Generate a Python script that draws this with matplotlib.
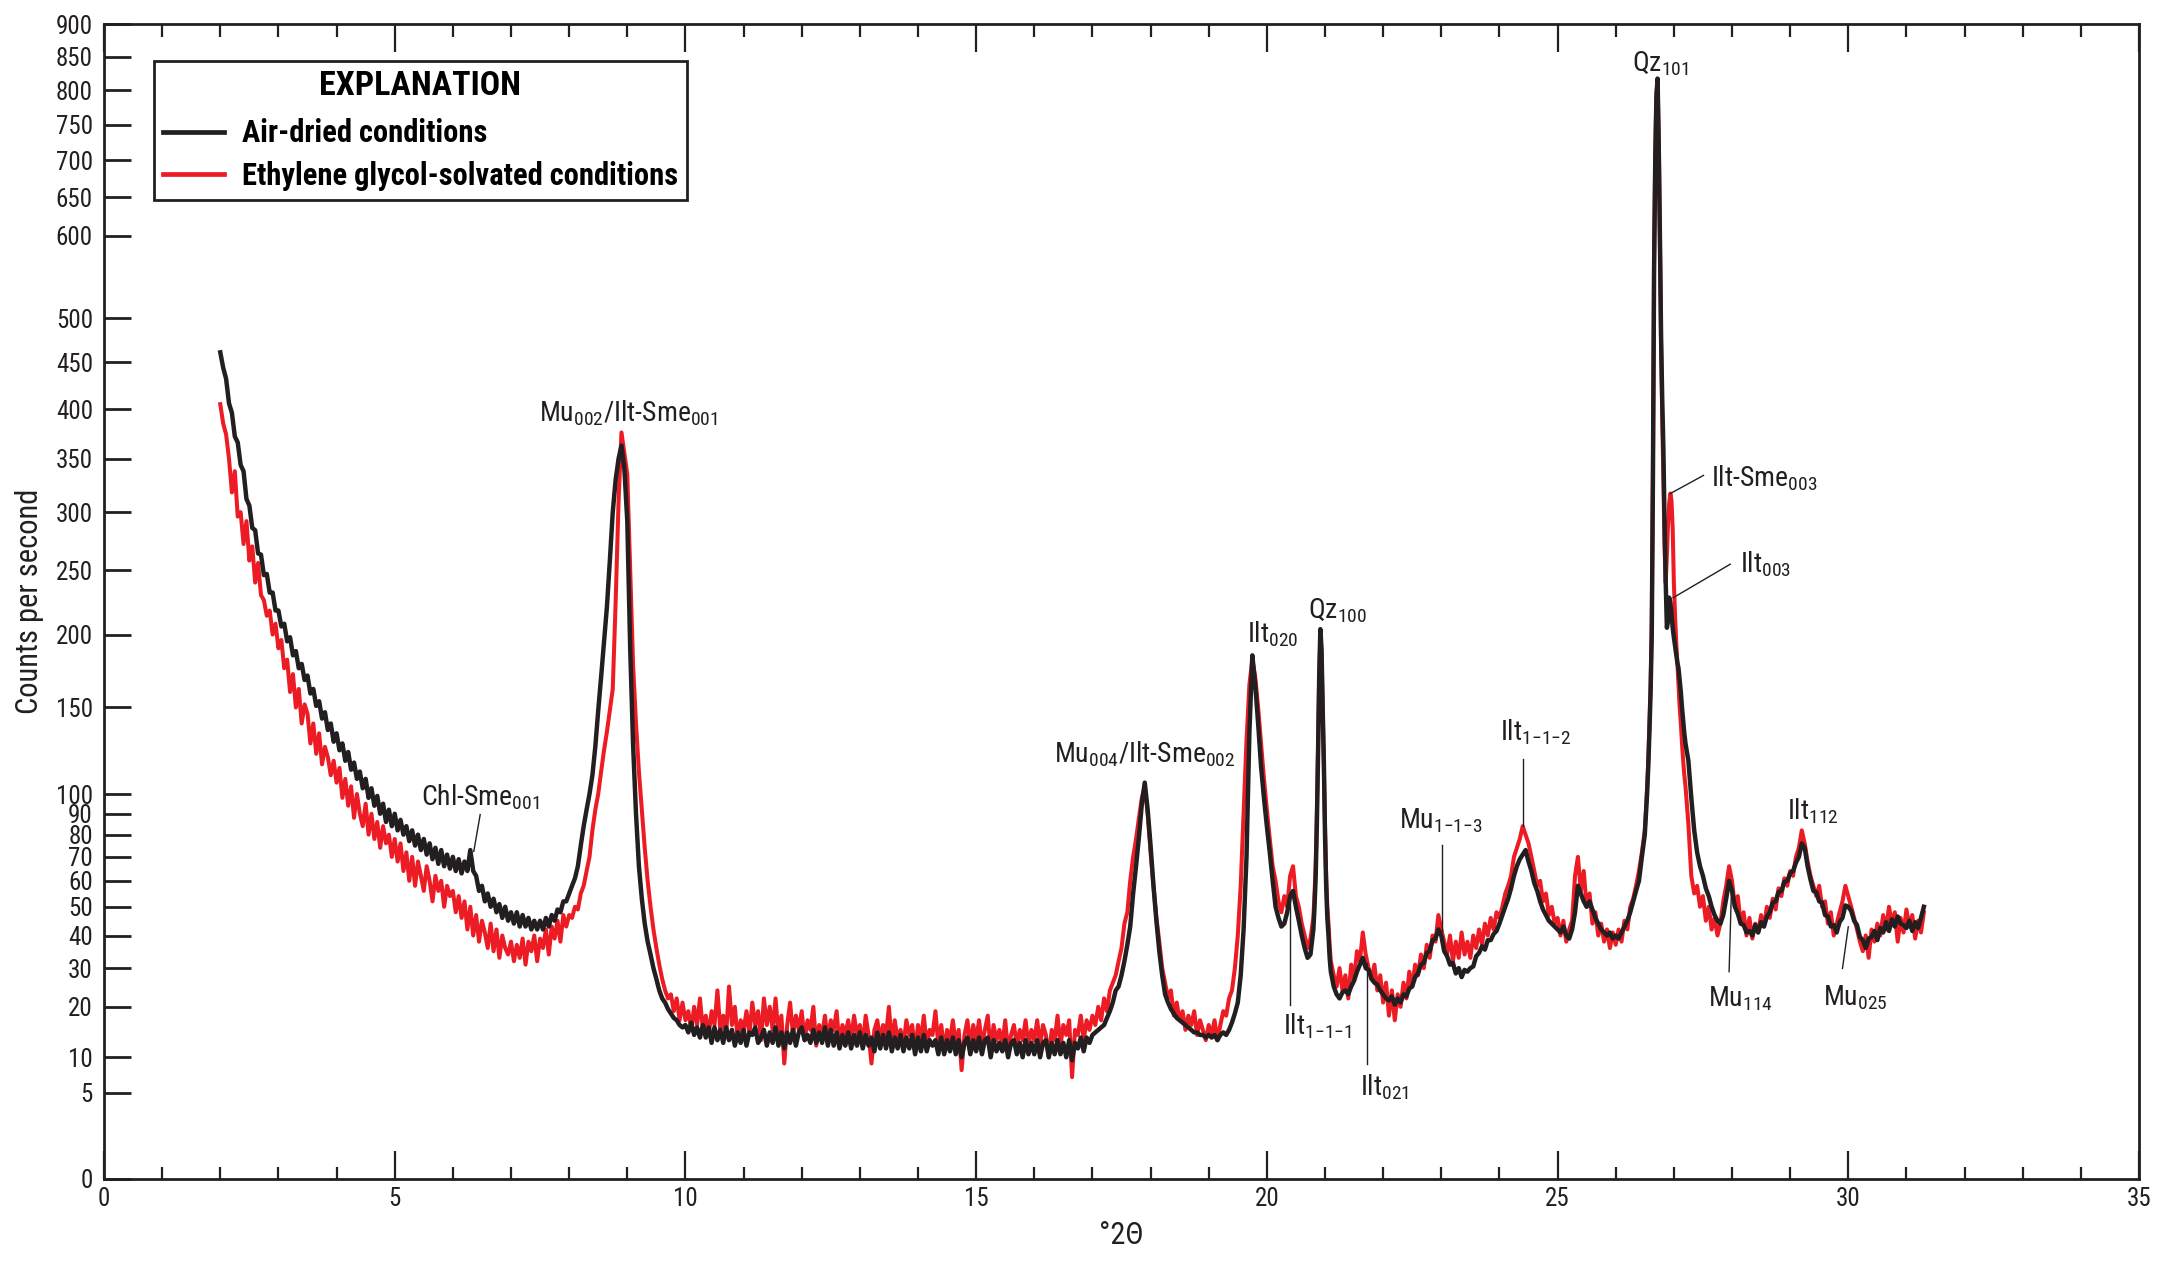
import numpy as np
import matplotlib
matplotlib.use("Agg")
import matplotlib.pyplot as plt
from matplotlib import font_manager

# ---------------- data (counts per second) ----------------
# each segment: start (deg 2theta), step, values
black_02_10 = [
    461, 444, 432, 406, 396, 372, 366, 344, 338, 312, 306, 286, 284, 264, 263, 246, 247, 232, 232, 218,
    218, 206, 208, 195, 198, 185, 188, 176, 179, 168, 171, 159, 162, 151, 154, 143, 147, 136, 140, 129,
    134, 124, 128, 118, 123, 113, 117, 108, 112, 103, 108, 98, 103, 94, 99, 90, 95, 86, 92, 84,
    90, 82, 87, 80, 84, 77, 82, 75, 80, 73, 78, 71, 76, 69, 74, 67, 73, 66, 71, 65,
    70, 64, 69, 63, 68, 64, 73, 64, 62, 56, 58, 52, 55, 50, 53, 48, 51, 46, 50, 45,
    48, 44, 48, 43, 47, 43, 46, 42, 45, 42, 45, 42, 46, 43, 47, 45, 49, 48, 52, 52,
    55, 58, 61, 66, 75, 84, 92, 100, 110, 126, 148, 170, 195, 221, 258, 300, 330, 350, 363, 340,
    292, 190, 127, 90, 66, 53, 44, 38, 34, 30, 27, 24, 22, 21, 19.5, 18.5, 17.5, 17, 16, 15.5,
]
black_10_20 = [
    16, 14.5, 16.5, 14, 15.5, 13.5, 16, 13.5, 15.5, 12.5, 15.5, 13, 15, 12.5, 15.5, 13, 15, 12, 14.5, 12.5,
    15, 12, 14.5, 14, 15.5, 12.5, 13.5, 15, 12, 14.5, 12.5, 15.5, 12, 14.5, 11.5, 14.5, 12.5, 15, 12, 14.5,
    15.5, 13, 14, 12.5, 15, 12.5, 14.5, 12.5, 15.5, 12, 15, 12, 14.5, 11.5, 14, 12, 14.5, 11.5, 14, 12,
    14.5, 11.5, 14, 12, 13.5, 11, 14.5, 11.5, 14, 11.5, 14.5, 11, 13.5, 11.5, 14, 11, 13.5, 11.5, 14, 10.5,
    13.5, 11, 14, 11, 13, 12, 13, 10.5, 13.5, 10.5, 13, 11, 13.5, 10.5, 13, 10, 12.5, 13.5, 10.5, 13,
    11, 13.5, 10.5, 13, 13.5, 10, 13, 11, 12.5, 11, 13, 10, 12.5, 13, 10.5, 12.5, 10, 13, 10.5, 12.5,
    10.5, 13, 10, 12.5, 13, 10, 12.5, 10.5, 13, 10.5, 12.5, 10, 13, 9.5, 12.5, 11.5, 13.5, 11, 13.5, 12.5,
    14, 14.5, 15, 15.5, 16, 17.5, 19, 21, 24, 25, 28, 32, 37, 43, 55, 66, 79, 95, 106, 92,
    75, 58, 45, 35, 28, 23, 21, 19.5, 18.5, 17.5, 17, 16.5, 16, 15.5, 15, 14.5, 14.5, 14, 14, 13.5,
    14, 13.5, 14, 13, 14, 14.5, 14, 15, 16.5, 18.5, 21, 28, 42, 70, 135, 185, 165, 140, 115, 98,
]
black_20_21 = [84, 72, 60, 50, 46, 43, 44, 48, 54, 56, 50, 45, 40, 36, 33, 34, 42]
black_qz100 = [50, 62, 85, 121, 170, 204, 190, 150, 118, 80, 58, 46, 40, 33, 29]
black_21_26 = [
    25, 23, 22, 23.5, 24, 23, 25, 26.5, 29, 31, 33, 30, 29.5, 27, 26, 25.5, 24,
    23, 22, 21.5, 22.5, 20.5, 22, 21, 23, 22.5, 24.5, 25, 27.5, 28.5, 31, 31.5, 34.5, 35, 38.5, 39, 42,
    40, 35, 33.5, 31, 31.5, 28.5, 30, 27.5, 29.5, 29, 30, 30.5, 33.5, 34.5, 36.5, 35.5, 38.5, 38.5, 40.5, 41.5,
    44, 47, 50, 53, 57, 62, 66, 69, 71, 73, 68, 64, 59, 56, 52, 49, 47, 45, 44, 43,
    42, 41, 43, 40, 39, 42, 48, 58, 55, 52, 50, 52, 49, 46, 44, 42, 41, 40, 41, 39,
    40, 39, 41, 43, 45, 48, 52, 56, 60, 70,
]
black_qz101 = [
    80, 90, 100, 115, 135, 160, 200, 330, 560, 700,
    790, 817, 720, 600, 480, 410, 360, 290, 240, 205,
    210, 228, 224, 215, 205, 198, 192, 186, 180, 176,
    168, 160, 150, 142, 134, 128,
]
black_27_31 = [
    118, 98, 82, 72, 66, 62, 57, 54, 50, 47, 45, 44, 47, 53, 60,
    56, 50, 47.5, 44, 43.5, 41, 41.5, 40, 43.5, 41, 44.5, 43, 46.5, 48, 51.5, 52, 55.5, 56, 59.5, 60,
    63, 64, 67.5, 70, 76, 74, 66, 60.5, 56, 55.5, 52, 51.5, 47, 46.5, 43, 43.5, 41, 44.5, 46, 50.5,
    50, 48.5, 45, 43.5, 39.5, 38.5, 36, 39, 39.5, 41.5, 38.5, 42.5, 41, 44.5, 41.5, 45.5, 43, 46.5, 44, 43.5,
    42.5, 45, 41.5, 44.5, 42.5, 46, 50,
]

red_02_10 = [
    405, 385, 374, 350, 318, 338, 296, 300, 272, 292, 258, 270, 240, 256, 230, 226, 214, 218, 200, 208,
    190, 196, 176, 182, 160, 172, 150, 162, 140, 152, 146, 128, 140, 122, 134, 116, 126, 120, 110, 118,
    106, 114, 98, 108, 94, 104, 88, 100, 90, 84, 95, 80, 90, 78, 86, 74, 84, 76, 80, 70,
    78, 68, 76, 64, 72, 60, 70, 58, 68, 62, 56, 66, 60, 52, 62, 56, 60, 50, 58, 54,
    56, 48, 54, 46, 52, 42, 50, 40, 47, 38, 45, 41, 36, 44, 35, 42, 33, 40, 36, 34,
    38, 32, 37, 33, 39, 31, 38, 35, 40, 32, 39, 36, 42, 34, 43, 39, 45, 38, 47, 43,
    47, 46, 50, 49, 55, 58, 64, 70, 82, 92, 100, 112, 124, 135, 148, 162, 225, 310, 376, 355,
    335, 250, 178, 140, 112, 92, 74, 60, 50, 42, 36, 31, 27, 24, 22, 23, 19, 22, 17, 21,
]
red_10_20 = [
    17, 19, 15, 20, 16, 22, 15, 18, 14, 19, 16, 24, 15, 18, 14, 25, 16, 20, 13, 17,
    15, 19, 14, 21, 16, 19, 13, 22, 16, 20, 15, 22, 14, 18, 9, 16, 21, 14, 18, 15,
    19, 13, 17, 15, 20, 12, 16, 14, 18, 13, 17, 15, 19, 12, 16, 14, 17, 13, 18, 14,
    16, 12, 18, 14, 9, 15, 17, 13, 16, 14, 20, 12, 17, 13, 15, 12, 17, 14, 16, 11,
    16, 13, 18, 12, 15, 14, 19, 12, 16, 11, 15, 13, 17, 12, 15, 8, 14, 17, 12, 16,
    13, 17, 12, 15, 18, 11, 16, 13, 15, 12, 17, 11, 14, 16, 12, 15, 13, 17, 12, 15,
    13, 17, 12, 16, 14, 10, 15, 13, 18, 12, 16, 14, 17, 7, 15, 14, 18, 13, 17, 15,
    18, 16, 20, 17, 22, 19, 24, 26, 28, 32, 36, 44, 48, 60, 70, 78, 88, 98, 104, 90,
    72, 58, 46, 38, 30, 26, 22, 24, 18, 21, 17, 19, 15, 18, 16, 19, 14, 17, 15, 13,
    16, 14, 17, 13, 16, 19, 18, 22, 24, 30, 40, 58, 90, 130, 165, 182, 170, 150, 128, 108,
]
red_20_21 = [92, 78, 66, 60, 52, 48, 54, 50, 62, 66, 54, 50, 44, 40, 36, 39, 46]
red_qz100 = [55, 66, 90, 125, 170, 198, 185, 150, 115, 84, 62, 50, 44, 37, 32]
red_21_26 = [
    28, 25, 30, 24, 28, 22, 31, 27, 35, 32, 41, 34, 30, 27, 31, 24, 28,
    21, 26, 18, 24, 17, 23, 20, 26, 22, 29, 25, 31, 28, 34, 30, 37, 33, 40, 38, 47,
    42, 38, 34, 40, 32, 38, 33, 41, 34, 38, 33, 40, 36, 42, 37, 44, 40, 46, 42, 48,
    46, 50, 55, 58, 62, 70, 74, 78, 84, 80, 76, 70, 64, 58, 60, 52, 55, 47, 50, 44,
    46, 40, 45, 38, 42, 45, 62, 70, 56, 64, 50, 55, 44, 48, 40, 44, 38, 42, 36, 41,
    37, 42, 38, 45, 42, 50, 53, 58, 64, 72,
]
red_qz101 = [
    82, 92, 104, 118, 140, 165, 210, 340, 570, 710,
    795, 815, 730, 600, 470, 390, 330, 270, 240, 262,
    290, 308, 317, 310, 285, 240, 215, 195, 180, 165,
    150, 140, 128, 118, 110, 104,
]
red_27_31 = [
    85, 62, 55, 58, 50, 54, 45, 50, 42, 46, 40, 44, 52, 58, 66,
    60, 50, 54, 44, 48, 40, 46, 39, 44, 41, 47, 43, 50, 46, 53, 49, 57, 54, 61, 58,
    64, 62, 70, 74, 82, 76, 68, 62, 58, 54, 58, 50, 52, 44, 48, 40, 44, 48, 52, 58,
    54, 50, 46, 42, 38, 35, 40, 33, 42, 38, 44, 40, 47, 42, 50, 44, 48, 38, 46, 41,
    49, 43, 47, 39, 45, 41, 48,
]

seg_starts = [2.00, 10.00, 20.00, 20.82, 21.15, 26.50, 27.25]
seg_steps = [0.05, 0.05, 0.05, 0.02, 0.05, 0.02, 0.05]

y_ticks = [0, 5, 10, 20, 30, 40, 50, 60, 70, 80, 90, 100, 150, 200, 250, 300, 350,
           400, 450, 500, 600, 650, 700, 750, 800, 850, 900]
x_ticks = [0, 5, 10, 15, 20, 25, 30, 35]


def assemble(parts):
    xs, ys = [], []
    for start, step, vals in zip(seg_starts, seg_steps, parts):
        xs.append(np.round(start + step * np.arange(len(vals)), 3))
        ys.append(np.asarray(vals, float))
    return np.concatenate(xs), np.concatenate(ys)


xb, yb = assemble([black_02_10, black_10_20, black_20_21, black_qz100,
                   black_21_26, black_qz101, black_27_31])
xr, yr = assemble([red_02_10, red_10_20, red_20_21, red_qz100,
                   red_21_26, red_qz101, red_27_31])

# ---------------- fonts ----------------
names = {f.name for f in font_manager.fontManager.ttflist}
FONT = next((f for f in ["Liberation Sans Narrow", "Roboto Condensed",
                         "DejaVu Sans Condensed", "Liberation Sans"] if f in names),
            "DejaVu Sans")
plt.rcParams["font.family"] = [FONT, "DejaVu Sans"]
plt.rcParams["mathtext.fontset"] = "custom"
plt.rcParams["mathtext.rm"] = FONT
plt.rcParams["mathtext.it"] = FONT
plt.rcParams["mathtext.bf"] = FONT + ":bold"
plt.rcParams["mathtext.default"] = "regular"

INK = "#231f20"
RED = "#ed1c24"

fig = plt.figure(figsize=(21.74, 12.65), dpi=100)
ax = fig.add_axes([104 / 2174, 86 / 1265, 2035 / 2174, 1155 / 1265])

ax.set_yscale("function", functions=(lambda v: np.sqrt(np.clip(v, 0, None)),
                                     lambda v: np.square(v)))
ax.set_xlim(0, 35)
ax.set_ylim(0, 900)

hr, = ax.plot(xr, yr, color=RED, lw=2.9, solid_joinstyle="round", zorder=2)
hb, = ax.plot(xb, yb, color=INK, lw=3.2, solid_joinstyle="round", zorder=3)

# axes styling
for side in ["left", "bottom", "top", "right"]:
    ax.spines[side].set_linewidth(2.0)
    ax.spines[side].set_color(INK)

ax.set_yticks(y_ticks)
ax.set_yticklabels([str(v) for v in y_ticks])
ax.set_xticks(x_ticks)
ax.set_xticks(np.arange(0, 36, 1), minor=True)
ax.tick_params(axis="y", which="major", direction="in", length=19.5, width=2.0,
               labelsize=18, pad=8, colors=INK, right=False)
ax.tick_params(axis="y", which="minor", left=False, right=False)
ax.tick_params(axis="x", which="major", direction="in", length=20, width=1.6,
               labelsize=18, pad=6, top=True, colors=INK)
ax.tick_params(axis="x", which="minor", direction="in", length=9, width=1.6,
               top=True, colors=INK)

ax.set_xlabel("°2Θ", fontsize=22, color=INK)
ax.xaxis.set_label_coords(0.5, -0.036)
ax.set_ylabel("Counts per second", fontsize=22, color=INK)
ax.yaxis.set_label_coords(-0.0295, 0.5)

# legend
leg = ax.legend(handles=[hb, hr],
                labels=["Air-dried conditions", "Ethylene glycol-solvated conditions"],
                loc="upper left", bbox_to_anchor=(50 / 2035, 1118 / 1155),
                bbox_transform=ax.transAxes, borderaxespad=0,
                title="EXPLANATION",
                title_fontproperties={"weight": "bold", "size": 24.5},
                prop={"weight": "bold", "size": 22},
                frameon=True, fancybox=False, framealpha=1, edgecolor=INK,
                handlelength=2.0, handletextpad=0.6, borderpad=0.28,
                labelspacing=0.42)
leg._legend_box.sep = 12
leg.get_frame().set_linewidth(2.0)
for line in leg.get_lines():
    line.set_linewidth(3.4)

# peak labels
labels = [
    ("Chl-Sme$_{001}$", 5.46, 94),
    ("Mu$_{002}$/Ilt-Sme$_{001}$", 7.49, 387),
    ("Mu$_{004}$/Ilt-Sme$_{002}$", 16.34, 117),
    ("Ilt$_{020}$", 19.65, 194),
    ("Qz$_{100}$", 20.71, 212),
    ("Mu$_{1{-}1{-}3}$", 22.28, 83),
    ("Ilt$_{1{-}1{-}2}$", 24.01, 130),
    ("Ilt$_{1{-}1{-}1}$", 20.27, 14.1),
    ("Ilt$_{021}$", 21.60, 4.7),
    ("Qz$_{101}$", 26.28, 828),
    ("Ilt-Sme$_{003}$", 27.64, 324),
    ("Ilt$_{003}$", 28.13, 248),
    ("Ilt$_{112}$", 28.95, 87),
    ("Mu$_{114}$", 27.59, 20),
    ("Mu$_{025}$", 29.56, 20.4),
]
for txt, lx, ly in labels:
    ax.text(lx, ly, txt, fontsize=20, color=INK, ha="left", va="baseline", zorder=5)

leaders = [
    ((6.47, 89.6), (6.36, 72.4)),
    ((23.02, 75.3), (23.02, 41.5)),
    ((24.41, 119), (24.41, 84.3)),
    ((20.39, 54.1), (20.39, 20.5)),
    ((21.72, 31.6), (21.72, 8.9)),
    ((27.51, 334), (26.94, 317)),
    ((27.97, 255), (26.99, 228)),
    ((27.95, 29), (27.99, 56)),
    ((29.90, 29.9), (30.0, 42.9)),
]
for (x0, y0), (x1, y1) in leaders:
    ax.plot([x0, x1], [y0, y1], color=INK, lw=1.0, zorder=4)

fig.savefig("out.png", dpi=100)
